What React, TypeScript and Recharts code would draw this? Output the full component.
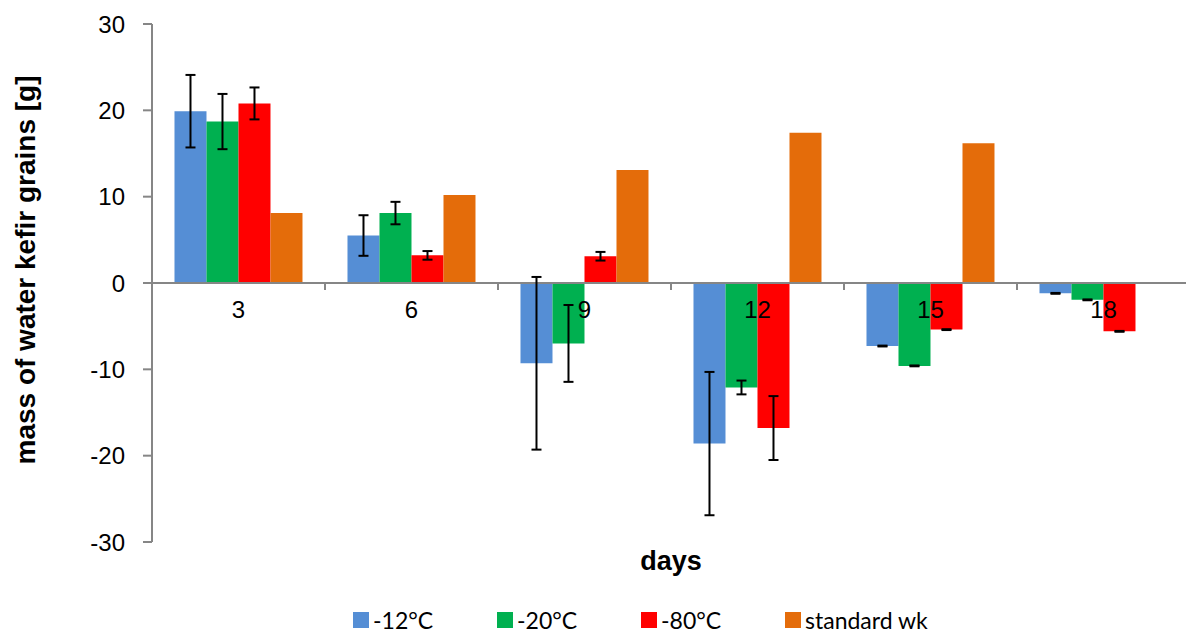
import { Bar, BarChart, ErrorBar, Label, Legend, ReferenceLine, XAxis, YAxis } from "recharts";

// days of storage
const days = ["3", "6", "9", "12", "15", "18"];

// mass change per storage temperature [g]
const minus12 = [19.9, 5.5, -9.3, -18.6, -7.3, -1.2];
const minus12Err = [4.2, 2.35, 10.0, 8.3, 0.05, 0.05];
const minus20 = [18.7, 8.1, -7.0, -12.1, -9.6, -1.95];
const minus20Err = [3.2, 1.3, 4.45, 0.8, 0.05, 0.05];
const minus80 = [20.8, 3.2, 3.1, -16.8, -5.4, -5.6];
const minus80Err = [1.85, 0.5, 0.5, 3.7, 0.05, 0.05];
const standardWk = [8.1, 10.2, 13.1, 17.4, 16.2, null];

const yTicks = [-30, -20, -10, 0, 10, 20, 30];

const data = days.map((day, i) => ({
    day,
    m12: minus12[i],
    m12e: minus12Err[i],
    m20: minus20[i],
    m20e: minus20Err[i],
    m80: minus80[i],
    m80e: minus80Err[i],
    wk: standardWk[i],
}));

const W = 1186;
const H = 622;
const MARGIN = { top: 16, right: 4, bottom: 28, left: 0 };
const Y_AXIS_W = 144;
const X_AXIS_H = 60;
const PLOT_TOP = MARGIN.top;
const PLOT_H = H - MARGIN.top - MARGIN.bottom - X_AXIS_H;
const PLOT_W = W - MARGIN.left - MARGIN.right - Y_AXIS_W;
const Y_MIN = -30;
const Y_MAX = 30;
const AXIS = "#868686";
const FONT = "'Liberation Sans', Arial, sans-serif";

function DayTick(props: any) {
    const { x, payload } = props;
    const zeroY = PLOT_TOP + (PLOT_H * Y_MAX) / (Y_MAX - Y_MIN);
    const band = PLOT_W / days.length;
    const last = payload.value === days[days.length - 1];
    return (
        <g>
            <line x1={x - band / 2} x2={x - band / 2} y1={zeroY} y2={zeroY + 7} stroke={AXIS} strokeWidth={2} />
            {last && <line x1={x + band / 2} x2={x + band / 2} y1={zeroY} y2={zeroY + 7} stroke={AXIS} strokeWidth={2} />}
            <text x={x} y={zeroY + 35} textAnchor="middle" fill="#000" fontSize={24} fontFamily={FONT}>
                {payload.value}
            </text>
        </g>
    );
}

function DaysTitle(props: any) {
    const { viewBox } = props;
    return (
        <text x={viewBox.x + viewBox.width / 2} y={viewBox.y + 28} textAnchor="middle" fill="#000" fontSize={27} fontWeight="bold" fontFamily={FONT}>
            days
        </text>
    );
}

function MassTitle(props: any) {
    const { viewBox } = props;
    const cx = viewBox.x + 27;
    const cy = viewBox.y + viewBox.height / 2 - 13;
    return (
        <text x={cx} y={cy} transform={`rotate(-90 ${cx} ${cy})`} textAnchor="middle" fill="#000" fontSize={28} fontWeight="bold" fontFamily={FONT}>
            mass of water kefir grains [g]
        </text>
    );
}

export default function App() {
    return (
        <BarChart width={W} height={H} data={data} margin={MARGIN} barCategoryGap="13%" barGap={0}>
            <YAxis
                width={Y_AXIS_W}
                domain={[Y_MIN, Y_MAX]}
                ticks={yTicks}
                interval={0}
                axisLine={{ stroke: AXIS, strokeWidth: 2 }}
                tickLine={{ stroke: AXIS, strokeWidth: 2 }}
                tickSize={9}
                tickMargin={18}
                tick={{ fill: "#000", fontSize: 24, fontFamily: FONT }}
            >
                <Label content={MassTitle} />
            </YAxis>
            <ReferenceLine y={0} stroke={AXIS} strokeWidth={2} />
            <Bar dataKey="m12" name="-12°C" fill="#558ED5" isAnimationActive={false}>
                <ErrorBar dataKey="m12e" direction="y" width={5} stroke="#000" strokeWidth={2} />
            </Bar>
            <Bar dataKey="m20" name="-20°C" fill="#00B050" isAnimationActive={false}>
                <ErrorBar dataKey="m20e" direction="y" width={5} stroke="#000" strokeWidth={2} />
            </Bar>
            <Bar dataKey="m80" name="-80°C" fill="#FF0000" isAnimationActive={false}>
                <ErrorBar dataKey="m80e" direction="y" width={5} stroke="#000" strokeWidth={2} />
            </Bar>
            <Bar dataKey="wk" name="standard wk" fill="#E46C0A" isAnimationActive={false} />
            <XAxis
                dataKey="day"
                height={X_AXIS_H}
                interval={0}
                axisLine={false}
                tickLine={false}
                tick={(p: any) => <DayTick {...p} />}
            >
                <Label content={DaysTitle} />
            </XAxis>
            <Legend
                layout="horizontal"
                verticalAlign="middle"
                align="center"
                iconType="square"
                iconSize={16}
                wrapperStyle={{ top: 597, left: 233, width: 800, lineHeight: "28px" }}
                formatter={(value: string) => (
                    <span
                        style={{
                            display: "inline-block",
                            width: 114,
                            whiteSpace: "nowrap",
                            textAlign: "left",
                            color: "#000",
                            fontFamily: "Lato, sans-serif",
                            fontSize: 23,
                            verticalAlign: "middle",
                        }}
                    >
                        {value}
                    </span>
                )}
            />
        </BarChart>
    );
}
